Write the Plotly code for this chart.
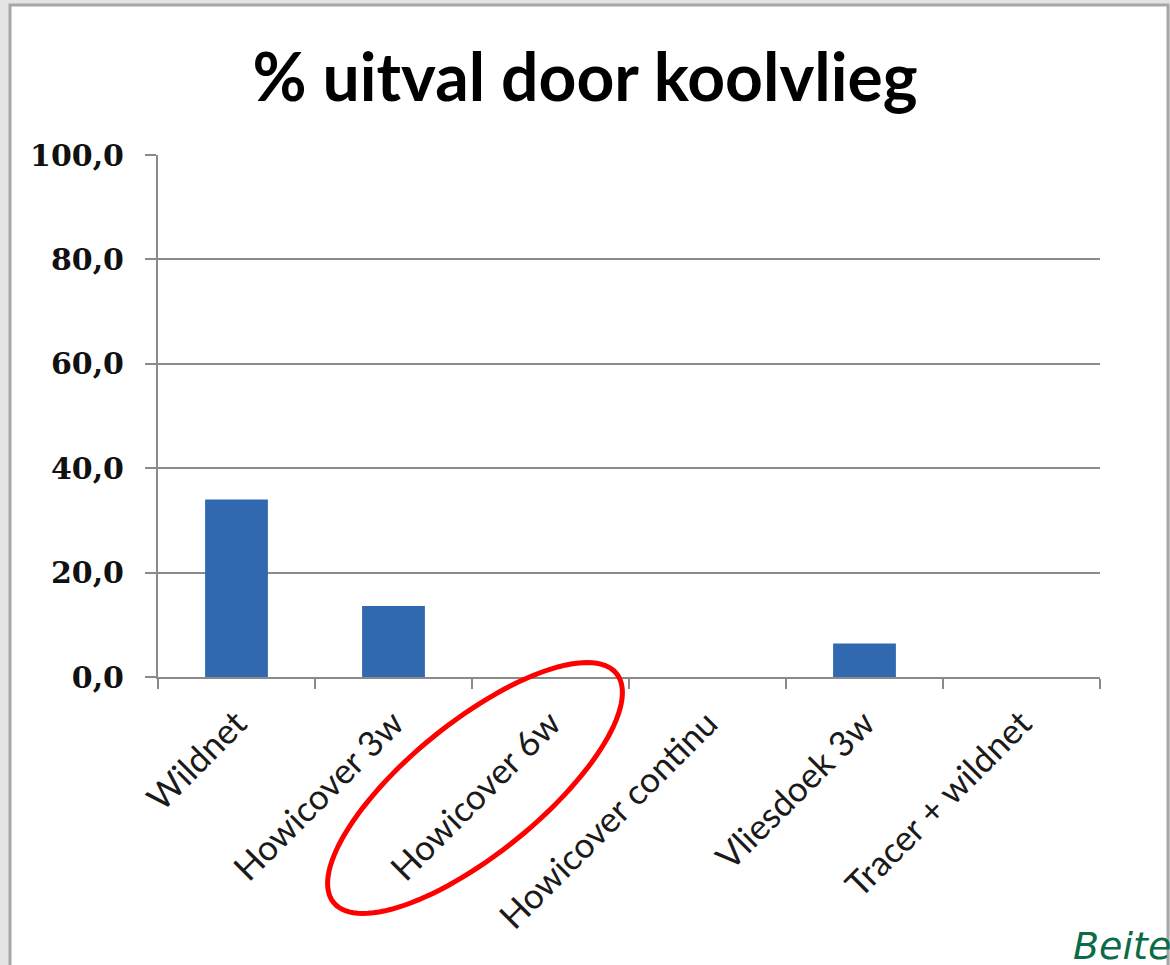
import numpy as np
import plotly.graph_objects as go

categories = ["Wildnet", "Howicover 3w", "Howicover 6w", "Howicover continu", "Vliesdoek 3w", "Tracer + wildnet"]
uitval = [34.0, 13.6, 0.0, 0.0, 6.4, 0.0]
y_ticks = [0, 20, 40, 60, 80, 100]

W, H = 1170, 965
L, R, T, B = 158, 1100, 155, 677  # plot area in pixels

def px(x):
    return (x - L) / (R - L)

def py(y):
    return (B - y) / (B - T)

fig = go.Figure()
fig.add_trace(go.Bar(
    x=categories, y=uitval, width=0.4,
    marker=dict(color="#3069b0", line=dict(width=0)),
    hoverinfo="x+y",
))

shapes = []
# white panel with grey border
shapes.append(dict(type="rect", xref="paper", yref="paper",
                   x0=px(10), x1=px(1168), y0=py(1000), y1=py(5),
                   fillcolor="white", line=dict(color="#a6a6a6", width=3), layer="below"))
# red ellipse around "Howicover 6w"
cx, cy, a, b, ang = 475, 788, 182, 66, np.deg2rad(-39)
t = np.linspace(0, 2 * np.pi, 121)
ex = cx + a * np.cos(t) * np.cos(ang) - b * np.sin(t) * np.sin(ang)
ey = cy + a * np.cos(t) * np.sin(ang) + b * np.sin(t) * np.cos(ang)
path = "M " + " L ".join(f"{px(x):.5f},{py(y):.5f}" for x, y in zip(ex, ey)) + " Z"
shapes.append(dict(type="path", xref="paper", yref="paper", path=path,
                   line=dict(color="#ff0000", width=5), fillcolor="rgba(0,0,0,0)", layer="above"))

fig.update_layout(
    width=W, height=H,
    margin=dict(l=L, r=W - R, t=T, b=H - B, pad=0),
    paper_bgcolor="#e4e4e4",
    plot_bgcolor="rgba(0,0,0,0)",
    separators=",.",
    showlegend=False,
    bargap=0.6,
    title=dict(text="% uitval door koolvlieg", x=0.5, xanchor="center",
               y=1 - 78 / H, yanchor="middle",
               font=dict(family="Lato", size=66, color="#000000", weight="bold")),
    shapes=shapes,
    annotations=[dict(text="<i>Beite</i>", xref="paper", yref="paper",
                      x=px(1071), y=py(946), xanchor="left", yanchor="middle",
                      showarrow=False,
                      font=dict(family="DejaVu Sans", size=38, color="#0b6a48"))],
    xaxis=dict(
        type="category", tickangle=-45,
        showline=True, linecolor="#8a8a8a", linewidth=2,
        ticks="outside", tickson="boundaries", ticklen=10, tickwidth=2, tickcolor="#8a8a8a",
        tickfont=dict(family="Lato", size=35, color="#1a1a1a"),
        ticklabelstandoff=10,
        showgrid=False,
    ),
    yaxis=dict(
        range=[0, 100], tickvals=y_ticks, tickformat=".1f",
        showline=True, linecolor="#8a8a8a", linewidth=2,
        ticks="outside", ticklen=11, tickwidth=2, tickcolor="#8a8a8a",
        showgrid=True, gridcolor="#8a8a8a", gridwidth=2,
        zeroline=False,
        tickfont=dict(family="DejaVu Serif", size=30, color="#111111", weight="bold"),
        ticklabelstandoff=15,
    ),
)

fig.write_html("out.html", config={"displayModeBar": False},
               post_script="document.body.style.margin='0';document.body.style.background='#e4e4e4';")
